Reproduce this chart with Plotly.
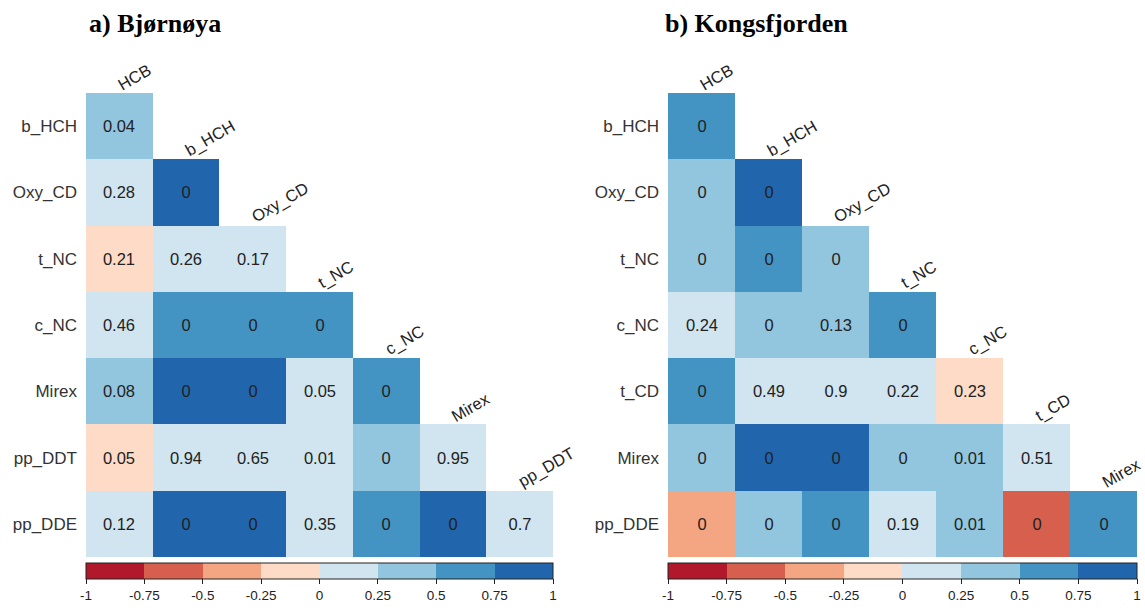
import plotly.graph_objects as go

# Variables (rows listed top to bottom, columns left to right) for each site
rows_a = ["b_HCH", "Oxy_CD", "t_NC", "c_NC", "Mirex", "pp_DDT", "pp_DDE"]
cols_a = ["HCB", "b_HCH", "Oxy_CD", "t_NC", "c_NC", "Mirex", "pp_DDT"]
rows_b = ["b_HCH", "Oxy_CD", "t_NC", "c_NC", "t_CD", "Mirex", "pp_DDE"]
cols_b = ["HCB", "b_HCH", "Oxy_CD", "t_NC", "c_NC", "t_CD", "Mirex"]

# Correlation coefficients (lower triangle, one list per row)
corr_a = [
    [0.41],
    [0.22, 0.86],
    [-0.22, 0.20, 0.24],
    [0.14, 0.68, 0.71, 0.66],
    [0.33, 0.84, 0.79, 0.19, 0.63],
    [-0.19, 0.01, 0.09, 0.24, 0.46, 0.01],
    [0.15, 0.88, 0.80, 0.18, 0.72, 0.90, 0.08],
]
corr_b = [
    [0.70],
    [0.45, 0.83],
    [0.48, 0.62, 0.44],
    [0.22, 0.46, 0.28, 0.67],
    [0.58, 0.13, 0.02, 0.23, -0.23],
    [0.47, 0.86, 0.84, 0.49, 0.47, 0.12],
    [-0.42, 0.45, 0.61, 0.24, 0.44, -0.64, 0.69],
]

# p-values printed inside the cells
pval_a = [
    [0.04],
    [0.28, 0],
    [0.21, 0.26, 0.17],
    [0.46, 0, 0, 0],
    [0.08, 0, 0, 0.05, 0],
    [0.05, 0.94, 0.65, 0.01, 0, 0.95],
    [0.12, 0, 0, 0.35, 0, 0, 0.7],
]
pval_b = [
    [0],
    [0, 0],
    [0, 0, 0],
    [0.24, 0, 0.13, 0],
    [0, 0.49, 0.9, 0.22, 0.23],
    [0, 0, 0, 0, 0.01, 0.51],
    [0, 0, 0, 0.19, 0.01, 0, 0],
]

titles = ["a) Bjørnøya", "b) Kongsfjorden"]
cbar_ticks = [-1, -0.75, -0.5, -0.25, 0, 0.25, 0.5, 0.75, 1]
bin_colors = ["#B2182B", "#D6604D", "#F4A582", "#FDDBC7",
              "#D1E5F0", "#92C5DE", "#4393C3", "#2166AC"]

W, H = 1145, 614
FONT = "Liberation Sans"

# stepped colorscale: eight equal bins from -1 to 1
colorscale = []
for i, c in enumerate(bin_colors):
    colorscale += [[i / len(bin_colors), c], [(i + 1) / len(bin_colors), c]]


def square(tri, n):
    """Lower-triangular list of rows -> full n x n matrix with gaps."""
    return [[tri[i][j] if j < len(tri[i]) else None for j in range(n)]
            for i in range(n)]


def labels(tri, n):
    return [[f"{tri[i][j]:g}" if j < len(tri[i]) else "" for j in range(n)]
            for i in range(n)]


# panel placement in pixels: (left, right) ; rows share top/bottom
panels = [(86, 553), (668, 1137)]
top_px, bot_px = 93, 557
cb_top_px = 563

fig = go.Figure()
data_sets = [(rows_a, cols_a, corr_a, pval_a), (rows_b, cols_b, corr_b, pval_b)]

for k, (rows, cols, corr, pv) in enumerate(data_sets):
    n = len(rows)
    xa = "x" if k == 0 else "x2"
    ya = "y" if k == 0 else "y2"
    left, right = panels[k]
    fig.add_trace(go.Heatmap(
        z=square(corr, n), x=cols, y=rows,
        text=labels(pv, n), texttemplate="%{text}",
        textfont=dict(family=FONT, size=16.5, color="#222222"),
        colorscale=colorscale, zmin=-1, zmax=1,
        xaxis=xa, yaxis=ya, hoverongaps=False,
        colorbar=dict(
            orientation="h", x=left / W, xanchor="left",
            y=1 - cb_top_px / H, yanchor="top",
            len=right - left, lenmode="pixels",
            thickness=16, thicknessmode="pixels",
            xpad=0, ypad=0, outlinewidth=1, outlinecolor="#222222",
            tickvals=cbar_ticks, ticktext=[f"{v:g}" for v in cbar_ticks],
            ticks="outside", ticklen=5, tickcolor="#222222",
            tickfont=dict(family=FONT, size=13.5, color="#222222"),
        ),
    ))

    axx = dict(domain=[left / W, right / W], range=[-0.5, n - 0.5],
               showticklabels=False, showgrid=False, zeroline=False,
               showline=False, ticks="", type="category",
               categoryorder="array", categoryarray=cols, automargin=False)
    axy = dict(domain=[1 - bot_px / H, 1 - top_px / H], range=[n - 0.5, -0.5],
               showgrid=False, zeroline=False, showline=False, ticks="",
               type="category", categoryorder="array", categoryarray=rows,
               ticklabelstandoff=8, automargin=False,
               tickfont=dict(family=FONT, size=17, color="#333333"))
    if k == 0:
        axx["anchor"] = "y"
        axy["anchor"] = "x"
        fig.update_layout(xaxis=axx, yaxis=axy)
    else:
        axx["anchor"] = "y2"
        axy["anchor"] = "x2"
        fig.update_layout(xaxis2=axx, yaxis2=axy)

    # column names along the diagonal, above each column's first cell
    for j, name in enumerate(cols):
        fig.add_annotation(
            x=j, y=j - 0.5, xref=xa, yref=ya, text=name, showarrow=False,
            xanchor="left", yanchor="bottom", textangle=-30,
            xshift=-6, yshift=-2, borderpad=0,
            font=dict(family=FONT, size=16.5, color="#222222"),
        )

    fig.add_annotation(
        x=(left + 1) / W if k == 0 else (left - 5) / W, y=1 - 23 / H,
        xref="paper", yref="paper", text=f"<b>{titles[k]}</b>",
        showarrow=False, xanchor="left", yanchor="middle",
        font=dict(family="Liberation Serif", size=26, color="#000000"),
    )

fig.update_layout(
    width=W, height=H, margin=dict(l=0, r=0, t=0, b=0),
    paper_bgcolor="white", plot_bgcolor="white", showlegend=False,
)

fig.write_html("out.html")
